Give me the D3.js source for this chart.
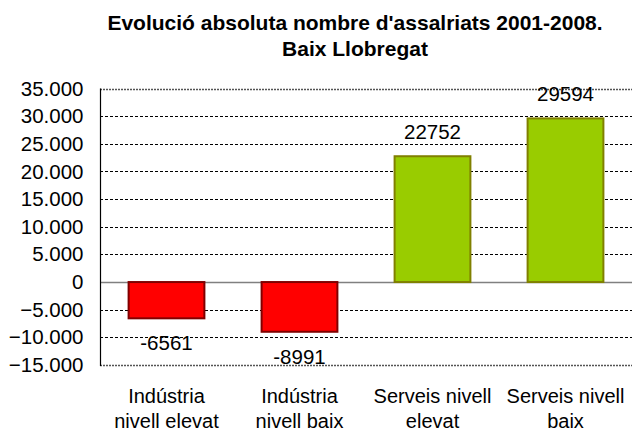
<!DOCTYPE html>
<html>
<head>
<meta charset="utf-8">
<script src="https://cdn.jsdelivr.net/npm/d3@7"></script>
<style>
  body { margin: 0; background: #fff; }
  svg { display: block; font-family: "Liberation Sans", Arial, sans-serif; }
</style>
</head>
<body>
<div id="chart"></div>
<script>
// Chart data
var categories = [
  ["Indústria", "nivell elevat"],
  ["Indústria", "nivell baix"],
  ["Serveis nivell", "elevat"],
  ["Serveis nivell", "baix"]
]
var values = [-6561, -8991, 22752, 29594]
var tickValues = [-15000, -10000, -5000, 0, 5000, 10000, 15000, 20000, 25000, 30000, 35000]
var titleLines = ["Evolució absoluta nombre d'assalriats 2001-2008.", "Baix Llobregat"]

var width = 632
var height = 433
var margin = {top: 88.5, right: 0, bottom: 68, left: 100}
var fontSize = 20.5

var svg = d3.select("#chart")
            .append("svg")
            .attr("width", width)
            .attr("height", height)

// Scales
var xscale = d3.scaleBand()
  .domain(d3.range(values.length))
  .range([margin.left, width - margin.right])
  .paddingInner(0.43)
  .paddingOuter(0.215)

var yscale = d3.scaleLinear()
  .domain([-15000, 35000])
  .range([height - margin.bottom, margin.top])

// Dashed gridlines (top and bottom ones are the plot border)
svg.append("g")
  .selectAll("line")
  .data(tickValues.filter(d => d != 0))
  .enter()
  .append("line")
  .attr("x1", margin.left)
  .attr("x2", width - margin.right)
  .attr("y1", d => Math.round(yscale(d)) + 0.5)
  .attr("y2", d => Math.round(yscale(d)) + 0.5)
  .attr("stroke", d => (d == 35000 || d == -15000) ? "#555" : "#000")
  .attr("stroke-width", d => (d == 35000 || d == -15000) ? 1.4 : 1)
  .attr("stroke-dasharray", d => (d == 35000 || d == -15000) ? "2,1" : "3,2")

// Zero line
svg.append("line")
  .attr("x1", margin.left)
  .attr("x2", width - margin.right)
  .attr("y1", Math.round(yscale(0)) + 0.5)
  .attr("y2", Math.round(yscale(0)) + 0.5)
  .attr("stroke", "#808080")
  .attr("stroke-width", 1.5)

// Y axis
var yaxis = d3.axisLeft(yscale)
  .tickValues(tickValues)
  .tickSize(0)
  .tickPadding(17)
  .tickFormat(d => d3.format(",")(d).replace(/,/g, "."))

var yg = svg.append("g")
  .attr("transform", "translate(" + (margin.left + 0.5) + ",0)")
  .call(yaxis)
yg.select(".domain").remove()
yg.selectAll("text")
  .attr("font-size", fontSize)
  .attr("font-family", "Liberation Sans, Arial, sans-serif")
  .attr("fill", "#000")

svg.append("line")
  .attr("x1", margin.left + 0.5)
  .attr("x2", margin.left + 0.5)
  .attr("y1", yscale(35000))
  .attr("y2", yscale(-15000) + 1)
  .attr("stroke", "#000")
  .attr("stroke-width", 1.2)

// Bars
svg.append("g")
  .selectAll("rect")
  .data(values)
  .enter()
  .append("rect")
  .attr("x", (d, i) => xscale(i))
  .attr("width", xscale.bandwidth())
  .attr("y", d => yscale(Math.max(0, d)))
  .attr("height", d => Math.abs(yscale(d) - yscale(0)))
  .attr("fill", d => d < 0 ? "#ff0000" : "#99cc00")
  .attr("stroke", d => d < 0 ? "#800000" : "#808000")
  .attr("stroke-width", 2)

// Value labels
svg.append("g")
  .selectAll("text")
  .data(values)
  .enter()
  .append("text")
  .attr("x", (d, i) => xscale(i) + xscale.bandwidth() / 2)
  .attr("y", d => d < 0 ? yscale(d) + 32 : yscale(d) - 17)
  .attr("text-anchor", "middle")
  .attr("font-size", fontSize)
  .attr("fill", "#000")
  .text(d => d)

// Category labels
var catg = svg.append("g")
  .selectAll("text")
  .data(categories)
  .enter()
  .append("text")
  .attr("x", (d, i) => xscale(i) + xscale.bandwidth() / 2)
  .attr("y", 403)
  .attr("text-anchor", "middle")
  .attr("font-size", 20)
  .attr("fill", "#000")

catg.selectAll("tspan")
  .data(d => d)
  .enter()
  .append("tspan")
  .attr("x", function(){ return d3.select(this.parentNode).attr("x") })
  .attr("dy", (d, i) => i == 0 ? 0 : 25)
  .text(d => d)

// Title
svg.append("g")
  .selectAll("text")
  .data(titleLines)
  .enter()
  .append("text")
  .attr("x", 355)
  .attr("y", (d, i) => 30 + i * 26)
  .attr("text-anchor", "middle")
  .attr("font-size", 21)
  .attr("font-weight", "bold")
  .attr("fill", "#000")
  .text(d => d)
</script>
</body>
</html>
